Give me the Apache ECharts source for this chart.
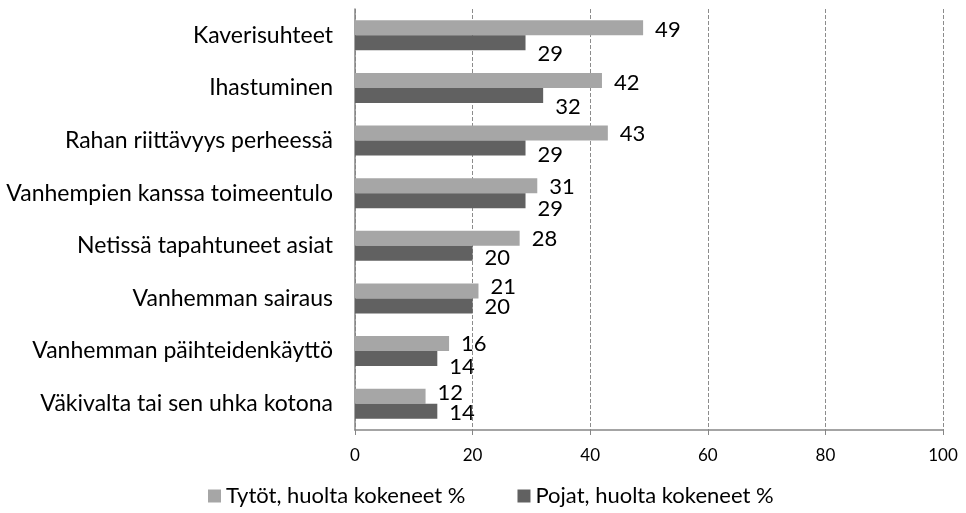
<!DOCTYPE html>
<html>
<head>
<meta charset="utf-8">
<title>Huolet</title>
<script src="https://cdn.jsdelivr.net/npm/echarts@6/dist/echarts.min.js"></script>
<style>
  html, body { margin: 0; padding: 0; background: #fff; }
  #main { width: 966px; height: 513px; }
</style>
</head>
<body>
<div id="main"></div>
<script type="text/javascript">
// data
var categories = ['Kaverisuhteet', 'Ihastuminen', 'Rahan riittävyys perheessä',
  'Vanhempien kanssa toimeentulo', 'Netissä tapahtuneet asiat', 'Vanhemman sairaus',
  'Vanhemman päihteidenkäyttö', 'Väkivalta tai sen uhka kotona'];
var tytot = [49, 42, 43, 31, 28, 21, 16, 12];
var pojat = [29, 32, 29, 29, 20, 20, 14, 14];
var seriesNames = ['Tytöt, huolta kokeneet %', 'Pojat, huolta kokeneet %'];

// data labels were nudged by hand in the original, vertical shift in px
var tytotLabelDy = [2, 2, 1, 1, 1, -4, 0, -3];
var pojatLabelDy = [11, 11, 7, 8, 5, 1, 8, 2];

var font = 'Lato, "Liberation Sans", sans-serif';
var myChart = echarts.init(document.getElementById('main'));

function withLabels(values, shifts) {
  return values.map(function (v, i) {
    return { value: v, label: { offset: [0, shifts[i]] } };
  });
}

var labelStyle = { show: true, position: 'right', distance: 12,
                   fontSize: 22, color: '#000', fontFamily: font };

var option = {
  backgroundColor: '#fff',
  animation: false,
  textStyle: { fontFamily: font },
  grid: { left: 355, right: 23, top: 9, bottom: 83 },
  legend: {
    data: seriesNames,
    top: 485,
    left: 208,
    padding: 0,
    icon: 'rect',
    itemWidth: 13,
    itemHeight: 13,
    itemGap: 52,
    textStyle: { fontSize: 22, color: '#000', fontFamily: font }
  },
  xAxis: {
    type: 'value',
    min: 0, max: 100, interval: 20,
    axisLine: { show: true, lineStyle: { color: '#868686', width: 1.5 } },
    axisTick: { show: true, length: 5, lineStyle: { color: '#868686' } },
    splitLine: { show: true, lineStyle: { color: '#8c8c8c', type: [4, 2] } },
    axisLabel: { fontSize: 17, color: '#000', margin: 17, fontFamily: font }
  },
  yAxis: {
    type: 'category',
    inverse: true,
    data: categories,
    axisLine: { show: true, lineStyle: { color: '#868686', width: 1.5 } },
    axisTick: { show: false },
    axisLabel: { fontSize: 23, color: '#000', margin: 22, fontFamily: font }
  },
  series: [
    {
      name: seriesNames[0],
      type: 'bar',
      data: withLabels(tytot, tytotLabelDy),
      barWidth: 15,
      barGap: '0%',
      itemStyle: { color: '#a6a6a6' },
      label: labelStyle
    },
    {
      name: seriesNames[1],
      type: 'bar',
      data: withLabels(pojat, pojatLabelDy),
      barWidth: 15,
      barGap: '0%',
      itemStyle: { color: '#616161' },
      label: labelStyle
    }
  ]
};

myChart.setOption(option);
</script>
</body>
</html>
